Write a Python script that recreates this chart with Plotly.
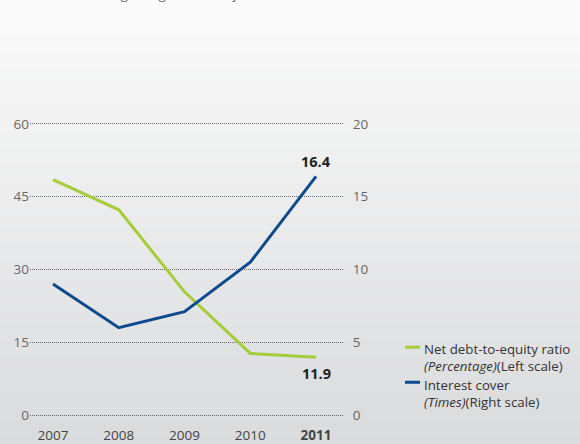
import plotly.graph_objects as go

years = [2007, 2008, 2009, 2010, 2011]
year_labels = ["2007", "2008", "2009", "2010", "<b>2011</b>"]
net_debt_to_equity = [48.5, 42.3, 25.4, 12.7, 11.9]   # percentage, left scale
interest_cover = [9.0, 6.0, 7.1, 10.5, 16.4]          # times, right scale
left_ticks = [0, 15, 30, 45, 60]
right_ticks = [0, 5, 10, 15, 20]

GREEN = "#a4cd39"
BLUE = "#0b4a8c"
FONT = "Open Sans"

W, H = 580, 444
L, R = 30, 343
TOP, BOT = 121.1, 417.7


def px(x):
    return (x - L) / (R - L)


def py(y):
    return (BOT - y) / (BOT - TOP)


fig = go.Figure()
fig.add_trace(go.Scatter(x=years, y=net_debt_to_equity, mode="lines",
                         line=dict(color=GREEN, width=3), yaxis="y",
                         name="Net debt-to-equity ratio", showlegend=False))
fig.add_trace(go.Scatter(x=years, y=interest_cover, mode="lines",
                         line=dict(color=BLUE, width=3), yaxis="y2",
                         name="Interest cover", showlegend=False))

shapes = []
# background gradient
N = 60
top_c = (251, 251, 251)
bot_c = (218, 219, 221)
for i in range(N):
    t = i / (N - 1)
    c = tuple(round(top_c[k] + (bot_c[k] - top_c[k]) * t) for k in range(3))
    y0 = i * H / N
    y1 = (i + 1) * H / N + 0.6
    shapes.append(dict(type="rect", xref="paper", yref="paper", layer="below",
                       x0=px(0), x1=px(W), y0=py(y1), y1=py(y0),
                       fillcolor="rgb(%d,%d,%d)" % c, line=dict(width=0)))
# legend symbols
shapes.append(dict(type="line", xref="paper", yref="paper", x0=px(405), x1=px(420),
                   y0=py(347), y1=py(347), line=dict(color=GREEN, width=3)))
shapes.append(dict(type="line", xref="paper", yref="paper", x0=px(405), x1=px(420),
                   y0=py(382), y1=py(382), line=dict(color=BLUE, width=3)))

annotations = []
# intro text (cut off at top, as in the original)
annotations.append(dict(xref="paper", yref="paper", x=px(10), y=py(-6), xanchor="left",
                        yanchor="middle", showarrow=False, borderpad=0,
                        text="<i>Interest cover and gearing ratio were further enhanced in 2011.</i>",
                        font=dict(family=FONT, size=13.5, color="#555")))
# value labels
annotations.append(dict(x=years[-1], y=interest_cover[-1], xref="x", yref="y2",
                        text="<b>%.1f</b>" % interest_cover[-1], showarrow=False,
                        yshift=15, font=dict(family=FONT, size=14.5, color="#222")))
annotations.append(dict(x=years[-1], y=net_debt_to_equity[-1], xref="x", yref="y",
                        text="<b>%.1f</b>" % net_debt_to_equity[-1], showarrow=False,
                        yshift=-16, font=dict(family=FONT, size=14.5, color="#222")))
# legend text
leg_entries = [
    ("Net debt-to-equity ratio<br><i>(Percentage)</i>(Left scale)", 339),
    ("Interest cover<br><i>(Times)</i>(Right scale)", 374.5),
]
for txt, yy in leg_entries:
    annotations.append(dict(xref="paper", yref="paper", x=px(423), y=py(yy),
                            xanchor="left", yanchor="top", align="left",
                            showarrow=False, borderpad=0, text=txt,
                            font=dict(family=FONT, size=13.3, color="#333")))

fig.update_layout(
    width=W, height=H,
    margin=dict(l=L, r=W - R, t=TOP, b=H - BOT, pad=0, autoexpand=False),
    paper_bgcolor="#e9eaeb",
    plot_bgcolor="rgba(0,0,0,0)",
    font=dict(family=FONT, size=13, color="#666"),
    showlegend=False,
    shapes=shapes,
    annotations=annotations,
    xaxis=dict(range=[2006.65, 2011.41], tickvals=years, ticktext=year_labels,
               showgrid=False, zeroline=False, showline=False, automargin=False,
               ticks="outside", ticklen=5, tickcolor="rgba(0,0,0,0)",
               tickfont=dict(family=FONT, size=13.5, color="#444")),
    yaxis=dict(range=[-0.6, 60.6], tickvals=left_ticks, showgrid=True,
               gridcolor="#666", gridwidth=1, griddash="1px,1px", automargin=False,
               zeroline=False, showline=False, ticks="",
               tickfont=dict(family=FONT, size=13.5, color="#666")),
    yaxis2=dict(range=[-0.2, 20.2], tickvals=right_ticks, overlaying="y", side="right",
                showgrid=False, zeroline=False, showline=False, automargin=False,
                ticks="outside", ticklen=6, tickcolor="rgba(0,0,0,0)",
                tickfont=dict(family=FONT, size=13.5, color="#666")),
)

fig.write_html("out.html", config={"displayModeBar": False},
               post_script="document.body.style.margin='0';document.body.style.overflow='hidden';")
